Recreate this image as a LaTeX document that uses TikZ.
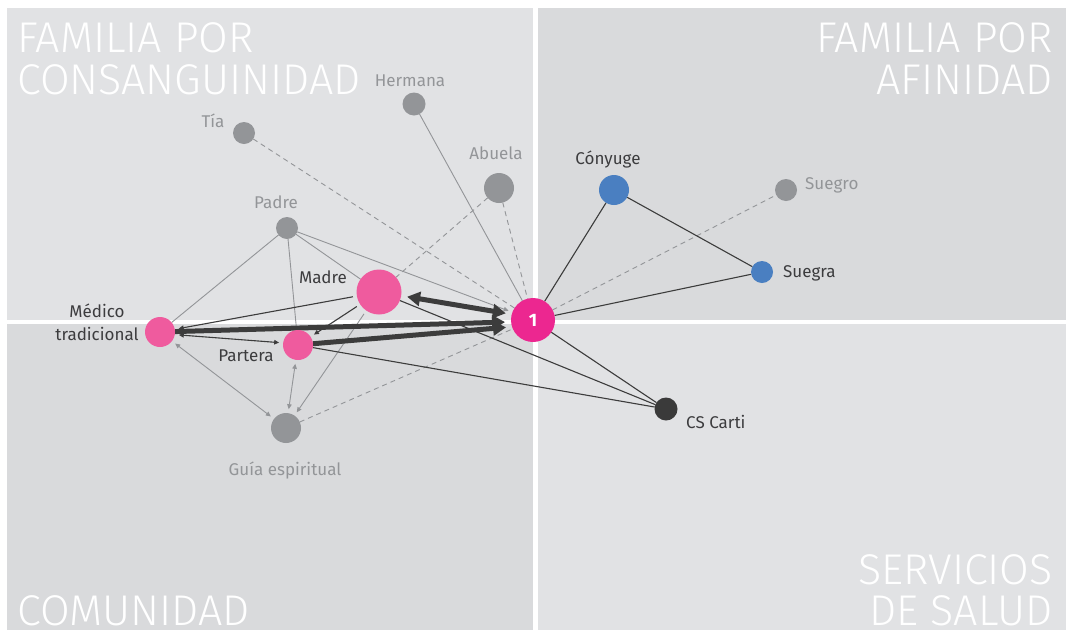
\documentclass[tikz,border=0pt]{standalone}
\usepackage{fontspec}
\setmainfont{Fira Sans}
\newfontfamily\titlefont{Fira Sans}[UprightFont={* Light}]
\usetikzlibrary{arrows.meta}
\definecolor{panelL}{HTML}{E1E2E4}
\definecolor{panelD}{HTML}{D9DADC}
\definecolor{egoC}{HTML}{EC2790}
\definecolor{pinkC}{HTML}{EF5B9E}
\definecolor{grayC}{HTML}{939598}
\definecolor{blueC}{HTML}{4A7FC1}
\definecolor{darkC}{HTML}{3C3C3C}
\definecolor{csC}{HTML}{3A3A3A}
\definecolor{labD}{HTML}{3C3C3E}
\pgfdeclarelayer{bg}
\pgfdeclarelayer{edges}
\pgfsetlayers{bg,edges,main}
\begin{document}
\begin{tikzpicture}[x=1pt,y=-1pt,
  dot/.style={circle,inner sep=0pt,outer sep=0pt,minimum size=#1},
  lab/.style={inner sep=0pt,font=\fontsize{17}{20}\selectfont},
  labg/.style={lab,text=grayC},
  labd/.style={lab,text=labD},
  ttl/.style={inner sep=0pt,text depth=0pt,text=white,font=\titlefont\fontsize{43}{43}\selectfont},
  gline/.style={draw=grayC,line width=0.9pt},
  gdash/.style={draw=grayC,line width=0.9pt,dash pattern=on 5pt off 4pt},
  dline/.style={draw=darkC,line width=1.1pt},
  tip/.tip={Triangle[length=5pt,width=4.5pt]},
  bigtip/.tip={Triangle[length=13pt,width=14pt]},
  thin arr/.style={shorten >=4pt,shorten <=4pt},
  thickarr/.style={draw=darkC,line width=5pt,shorten >=6pt}
]
\useasboundingbox (0,0) rectangle (1066,630);
\begin{pgfonlayer}{bg}
  \fill[white] (0,0) rectangle (1066,630);
  \fill[panelL] (7,8) rectangle (533,320);
  \fill[panelD] (538,8) rectangle (1066,320);
  \fill[panelD] (7,324) rectangle (533,630);
  \fill[panelL] (538,324) rectangle (1066,630);
\end{pgfonlayer}

% quadrant titles
\node[ttl,anchor=base west] (t1a) at (17,52) {FAMILIA POR};
\node[ttl,anchor=base west] (t1b) at (17,94) {CONSANGUINIDAD};
\node[ttl,anchor=base east] (t2a) at (1053,52) {FAMILIA POR};
\node[ttl,anchor=base east] (t2b) at (1053,94) {AFINIDAD};
\node[ttl,anchor=base east] (t3a) at (1053,584) {SERVICIOS};
\node[ttl,anchor=base east] (t3b) at (1053,625) {DE SALUD};
\node[ttl,anchor=base west] (t4) at (17,625) {COMUNIDAD};

% people
\node[dot=44pt,fill=egoC,text=white,font=\bfseries\fontsize{18}{18}\selectfont] (ego) at (533,320) {1};
\node[dot=45pt,fill=pinkC] (madre) at (379,292) {};
\node[dot=30pt,fill=pinkC] (medico) at (160,332) {};
\node[dot=30pt,fill=pinkC] (partera) at (298,345) {};
\node[dot=30pt,fill=grayC] (guia) at (286,428) {};
\node[dot=22pt,fill=grayC] (padre) at (287,228) {};
\node[dot=22pt,fill=grayC] (tia) at (244,133) {};
\node[dot=23pt,fill=grayC] (hermana) at (414,104) {};
\node[dot=30pt,fill=grayC] (abuela) at (499,188) {};
\node[dot=30pt,fill=blueC] (conyuge) at (614,190) {};
\node[dot=22pt,fill=grayC] (suegro) at (786,190) {};
\node[dot=22pt,fill=blueC] (suegra) at (762,272) {};
\node[dot=23pt,fill=csC] (cs) at (666,409) {};

% labels
\node[labg,anchor=base] (lhermana) at (410,86) {Hermana};
\node[labg,anchor=base] (ltia) at (213,127) {Tía};
\node[labg,anchor=base] (labuela) at (496,159) {Abuela};
\node[labg,anchor=base] (lpadre) at (276,208) {Padre};
\node[labd,anchor=base] (lmadre) at (323,283) {Madre};
\node[labd,anchor=base] (lpartera) at (246,361) {Partera};
\node[labd,anchor=base] (lmedico1) at (97,317) {Médico};
\node[labd,anchor=base] (lmedico2) at (97,340) {tradicional};
\node[labg,anchor=base] (lguia) at (285,475) {Guía espiritual};
\node[labd,anchor=base] (lconyuge) at (608,164) {Cónyuge};
\node[labg,anchor=base west] (lsuegro) at (805,189) {Suegro};
\node[labd,anchor=base west] (lsuegra) at (783,277) {Suegra};
\node[labd,anchor=base west] (lcs) at (686,428) {CS Carti};

\begin{pgfonlayer}{edges}
  % dashed grey ties
  \draw[gdash] (tia) -- (ego);
  \draw[gdash] (abuela) -- (ego);
  \draw[gdash] (abuela) -- (madre);
  \draw[gdash] (guia) -- (ego);
  \draw[gdash] (ego) -- (suegro);
  % solid grey ties
  \draw[gline] (hermana) -- (ego);
  \draw[gline] (padre) -- (medico);
  \draw[gline] (padre) -- (partera);
  \draw[gline] (padre) -- (madre);
  \draw[gline,-tip,shorten >=4pt] (padre) -- (ego);
  \draw[gline,-tip,thin arr] (madre) -- (guia);
  \draw[gline,tip-tip,thin arr] (medico) -- (guia);
  \draw[gline,tip-tip,thin arr] (partera) -- (guia);
  % dark thin ties
  \draw[dline] (madre) -- (cs);
  \draw[dline] (partera) -- (cs);
  \draw[dline] (ego) -- (cs);
  \draw[dline] (ego) -- (conyuge);
  \draw[dline] (conyuge) -- (suegra);
  \draw[dline] (ego) -- (suegra);
  \draw[dline,-tip,thin arr] (madre) -- (medico);
  \draw[dline,-tip,thin arr] (madre) -- (partera);
  \draw[dline,tip-tip,thin arr] (medico.-10) -- (partera.172);
  % strong ties
  \draw[thickarr,-bigtip] (medico) -- (ego.185);
  \draw[thickarr,-bigtip] (partera) -- (ego.198);
  \draw[thickarr,bigtip-bigtip,shorten <=6pt] (madre) -- (ego.165);
\end{pgfonlayer}
\end{tikzpicture}
\end{document}
